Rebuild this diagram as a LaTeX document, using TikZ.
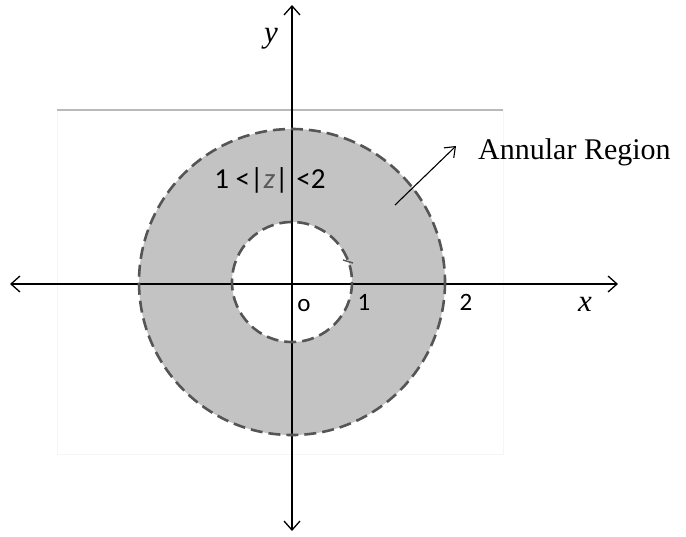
\documentclass[tikz,border=0pt]{standalone}
\usepackage{fontspec}
\setmainfont{Liberation Serif}
\newfontfamily\calfont{Carlito}
\usetikzlibrary{arrows.meta}
\definecolor{annulus}{HTML}{C3C3C3}
\definecolor{rim}{HTML}{555555}
\tikzset{
  axis/.style={line width=1.3pt, {Straight Barb[length=9pt,width=16pt]}-{Straight Barb[length=9pt,width=16pt]}},
  rimline/.style={rim, line width=2.6pt, dash pattern=on 12pt off 6pt},
  numlabel/.style={font=\calfont\fontsize{25}{28}\selectfont, inner sep=0pt},
  varlabel/.style={font=\fontsize{31}{34}\selectfont\itshape, inner sep=0pt},
  pointer/.style={line width=1.1pt, -{Straight Barb[length=9pt,width=14pt]}}
}

\begin{document}
\begin{tikzpicture}[x=1pt,y=-1pt]
  \useasboundingbox (0,0) rectangle (686,536);
  % frame
  \draw[gray!8, line width=0.8pt] (57,110) rectangle (503,454);
  \draw[gray!55, line width=1.5pt] (57,110) -- (503,110);
  % annulus
  \coordinate (C) at (292,282);
  \fill[annulus, even odd rule] (C) circle[radius=153] (C) circle[radius=60];
  % axes
  \coordinate (O) at (292,284);
  \coordinate (xl) at (10,284);
  \coordinate (xr) at (618,284);
  \coordinate (yb) at (292,531);
  \coordinate (yt) at (292,5);
  \draw[axis] (xl) -- (xr);
  \draw[axis] (yb) -- (yt);
  % rims
  \draw[rimline] (C) circle[radius=153];
  \draw[rimline] (C) circle[radius=60];
  \draw[rim, line width=1.4pt] (343,260) -- (353,263);
  % labels
  \node[varlabel] (ylab) at (271,39) {y};
  \node[varlabel] (xlab) at (585,304) {x};
  \node[numlabel] (olab) at (304,306) {o};
  \node[numlabel] (onelab) at (364,302) {1};
  \node[numlabel] (twolab) at (466,302) {2};
  \node[font=\calfont\fontsize{29}{34}\selectfont, inner sep=0pt] (ineq) at (270,180)
    {1 <|\textcolor{black!65}{\textit{z}}|\;<2};
  \node[font=\fontsize{30}{34}\selectfont, inner sep=0pt, anchor=west] (region) at (478,152) {Annular Region};
  \coordinate (tail) at (395,205);
  \coordinate (head) at (456,146);
  \draw[pointer] (tail) -- (head);
\end{tikzpicture}
\end{document}
